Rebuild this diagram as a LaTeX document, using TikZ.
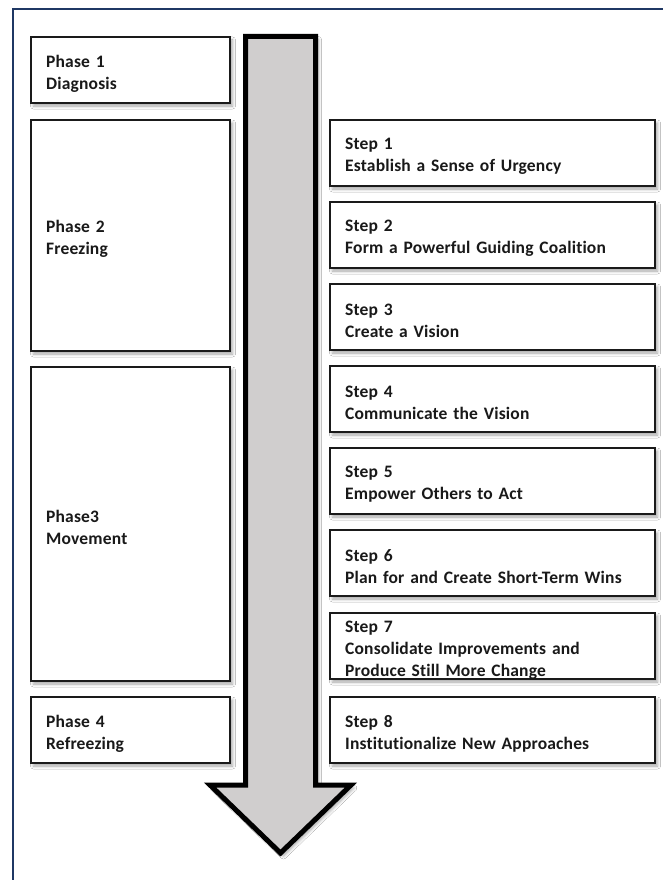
\documentclass[tikz,border=0pt]{standalone}
\usepackage{fontspec}
\setmainfont{Carlito}[Ligatures=NoCommon, BoldFont={Carlito Bold}, BoldFeatures={LetterSpace=1}]
\usetikzlibrary{shadows.blur}
\definecolor{navy}{HTML}{1F3864}
\definecolor{arrowgray}{HTML}{D0CECE}
\definecolor{boxline}{HTML}{1A1A1A}
\begin{document}
\begin{tikzpicture}[x=1pt,y=-1pt,
  box/.style={draw=boxline, line width=1.3pt, fill=white, anchor=north west,
    outer sep=0pt, inner sep=0pt,
    blur shadow={shadow xshift=2.5pt, shadow yshift=-3pt, shadow blur radius=3pt, shadow opacity=35}},
  phasebox/.style={box, minimum width=199pt},
  stepbox/.style={box, minimum width=325pt, minimum height=66pt},
  boxtext/.style={anchor=west, inner sep=0pt, align=left, text width=#1,
    font=\bfseries\fontsize{17.5}{22}\selectfont, text=black!90},
  boxtext/.default=290pt]
\useasboundingbox (0,0) rectangle (662,880);
\fill[white] (0,0) rectangle (662,880);
\draw[navy, line width=2pt] (13,890) -- (13,9) -- (672,9);
% arrow
\draw[line width=5pt, line join=miter, fill=arrowgray,
  blur shadow={shadow xshift=3pt, shadow yshift=-3pt, shadow blur radius=3pt, shadow opacity=35}]
  (245.5,36.5) -- (315.5,36.5) -- (315.5,785) -- (351,785) -- (280.5,853)
  -- (210,785) -- (245.5,785) -- cycle;
% phases
\node[phasebox, minimum height=66pt] (p1) at (31,37) {};
\node[phasebox, minimum height=231pt] (p2) at (31,120) {};
\node[phasebox, minimum height=314pt] (p3) at (31,367) {};
\node[phasebox, minimum height=66pt] (p4) at (31,697) {};
\node[boxtext=170pt] (t1) at ([xshift=15pt, yshift=-3.5pt]p1.west) {Phase 1\\Diagnosis};
\node[boxtext=170pt] (t2) at ([xshift=15pt, yshift=-3.5pt]p2.west) {Phase 2\\Freezing};
\node[boxtext=170pt] (t3) at ([xshift=15pt, yshift=-3.5pt]p3.west) {Phase3\\Movement};
\node[boxtext=170pt] (t4) at ([xshift=15pt, yshift=-3.5pt]p4.west) {Phase 4\\Refreezing};
% steps
\node[stepbox] (s1) at (330,120) {};
\node[stepbox] (s2) at (330,202) {};
\node[stepbox] (s3) at (330,284) {};
\node[stepbox] (s4) at (330,366) {};
\node[stepbox] (s5) at (330,448) {};
\node[stepbox] (s6) at (330,530) {};
\node[stepbox] (s7) at (330,613) {};
\node[stepbox] (s8) at (330,697) {};
\node[boxtext] (u1) at ([xshift=15pt, yshift=-3.5pt]s1.west) {Step 1\\Establish a Sense of Urgency};
\node[boxtext] (u2) at ([xshift=15pt, yshift=-3.5pt]s2.west) {Step 2\\Form a Powerful Guiding Coalition};
\node[boxtext] (u3) at ([xshift=15pt, yshift=-3.5pt]s3.west) {Step 3\\Create a Vision};
\node[boxtext] (u4) at ([xshift=15pt, yshift=-3.5pt]s4.west) {Step 4\\Communicate the Vision};
\node[boxtext] (u5) at ([xshift=15pt, yshift=-3.5pt]s5.west) {Step 5\\Empower Others to Act};
\node[boxtext] (u6) at ([xshift=15pt, yshift=-3.5pt]s6.west) {Step 6\\Plan for and Create Short-Term Wins};
\node[boxtext] (u7) at ([xshift=15pt, yshift=-4.5pt]s7.west) {Step 7\\Consolidate Improvements and\\Produce Still More Change};
\node[boxtext] (u8) at ([xshift=15pt, yshift=-3.5pt]s8.west) {Step 8\\Institutionalize New Approaches};
\end{tikzpicture}
\end{document}
